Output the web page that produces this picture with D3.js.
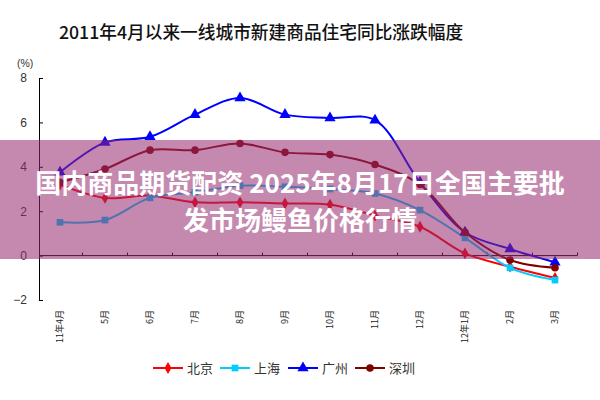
<!DOCTYPE html>
<html><head><meta charset="utf-8">
<script src="https://cdn.jsdelivr.net/npm/d3@7"></script>
<style>body{margin:0;background:#fff}svg{display:block}</style>
</head><body>
<svg id="c" width="600" height="400"></svg>
<script>
const months = ["11年4月","5月","6月","7月","8月","9月","10月","11月","12月","12年1月","2月","3月"];
const beijing   = [3.2, 2.6, 2.7, 2.4, 2.4, 2.35, 2.3, 1.8, 1.3, 0.1, -0.5, -1.0];
const shanghai  = [1.5, 1.6, 2.6, 2.85, 3.15, 3.1, 3.0, 2.8, 2.05, 0.8, -0.55, -1.1];
const guangzhou = [3.75, 5.1, 5.35, 6.35, 7.1, 6.35, 6.2, 6.1, 3.3, 1.05, 0.3, -0.3];
const shenzhen  = [3.3, 3.9, 4.75, 4.75, 5.05, 4.65, 4.55, 4.1, 3.2, 1.05, -0.2, -0.55];
const yTicks = [-2, 0, 2, 4, 6, 8];
const seriesNames = ["北京","上海","广州","深圳"];
const title = "2011年4月以来一线城市新建商品住宅同比涨跌幅度";
const overlayLines = ["国内商品期货配资 2025年8月17日全国主要批", "发市场鳗鱼价格行情"];

const series = [
  {name: seriesNames[0], values: beijing,   color: "#FF0000", sym: d3.symbolDiamond, size: 40},
  {name: seriesNames[1], values: shanghai,  color: "#00CCFF", sym: d3.symbolSquare,  size: 45},
  {name: seriesNames[2], values: guangzhou, color: "#0000FF", sym: d3.symbolTriangle, size: 55},
  {name: seriesNames[3], values: shenzhen,  color: "#800000", sym: d3.symbolCircle,  size: 45}
];

const svg = d3.select("#c");
const font = "'Noto Sans CJK SC', 'Liberation Sans', Arial, sans-serif";

const x = d3.scaleBand().domain(months).range([37.5, 577.5]);
const y = d3.scaleLinear().domain([-2, 8]).range([300, 78]);
const cx = d => x(d) + x.bandwidth() / 2;

// title
svg.append("text").attr("x", 261).attr("y", 39).attr("text-anchor", "middle")
  .attr("font-family", font).attr("font-size", 17.7).attr("font-weight", 500).attr("fill", "#111").text(title);

// unit
svg.append("text").attr("x", 17).attr("y", 67).attr("font-family", "'Liberation Sans', Arial, sans-serif")
  .attr("font-size", 10.5).attr("fill", "#333").text("(%)");

// y axis
const ya = svg.append("g").attr("transform", "translate(39,0)")
  .call(d3.axisLeft(y).tickValues(yTicks).tickSize(-4).tickPadding(12).tickSizeOuter(0));
ya.select(".domain").attr("stroke", "#000");
ya.selectAll(".tick line").attr("stroke", "#000");
ya.selectAll(".tick text").attr("font-family", "'Liberation Sans', Arial, sans-serif")
  .attr("font-size", 12).attr("fill", "#333");

// x axis at zero
const xg = svg.append("g");
xg.append("line").attr("x1", x.range()[0] + 1.5).attr("x2", x.range()[1])
  .attr("y1", y(0)).attr("y2", y(0)).attr("stroke", "#000");
xg.selectAll("line.t").data(months.slice(1).concat(["_end"])).join("line").attr("class", "t")
  .attr("x1", (d, i) => x.range()[0] + x.bandwidth() * (i + 1))
  .attr("x2", (d, i) => x.range()[0] + x.bandwidth() * (i + 1))
  .attr("y1", y(0)).attr("y2", y(0) - 3).attr("stroke", "#000");
xg.selectAll("text").data(months).join("text")
  .attr("transform", d => `translate(${cx(d) + 3},310) rotate(-90)`)
  .attr("text-anchor", "end")
  .attr("font-family", "'Noto Sans CJK SC', serif").attr("font-size", 9).attr("fill", "#222")
  .text(d => d);

// lines
const line = d3.line().x((v, i) => cx(months[i])).y(v => y(v)).curve(d3.curveCatmullRom.alpha(0.5));
series.forEach(s => {
  svg.append("path").datum(s.values).attr("d", line).attr("fill", "none")
    .attr("stroke", s.color).attr("stroke-width", 2);
  svg.append("g").selectAll("path").data(s.values).join("path")
    .attr("transform", (v, i) => `translate(${cx(months[i])},${y(v)})`)
    .attr("d", d3.symbol(s.sym, s.size)).attr("fill", s.color);
});

// legend
const legX = [153, 220, 288, 355];
const leg = svg.append("g");
series.forEach((s, i) => {
  const g = leg.append("g").attr("transform", `translate(${legX[i]},368)`);
  g.append("line").attr("x1", 0).attr("x2", 30).attr("stroke", s.color).attr("stroke-width", 2);
  g.append("path").attr("transform", "translate(15,0)").attr("d", d3.symbol(s.sym, s.size)).attr("fill", s.color);
  g.append("text").attr("x", 34).attr("y", 4.5).attr("font-family", font).attr("font-size", 13)
    .attr("fill", "#333").text(s.name);
});

// overlay banner
svg.append("rect").attr("x", 0).attr("y", 140).attr("width", 600).attr("height", 119)
  .attr("fill", "rgb(150,40,110)").attr("fill-opacity", 0.55);
svg.selectAll("text.ov").data(overlayLines).join("text").attr("class", "ov")
  .attr("x", 300).attr("y", (d, i) => 193 + i * 37).attr("text-anchor", "middle")
  .attr("font-family", font).attr("font-weight", "bold").attr("font-size", 26)
  .attr("fill", "#fff").text(d => d);
</script>
</body></html>
